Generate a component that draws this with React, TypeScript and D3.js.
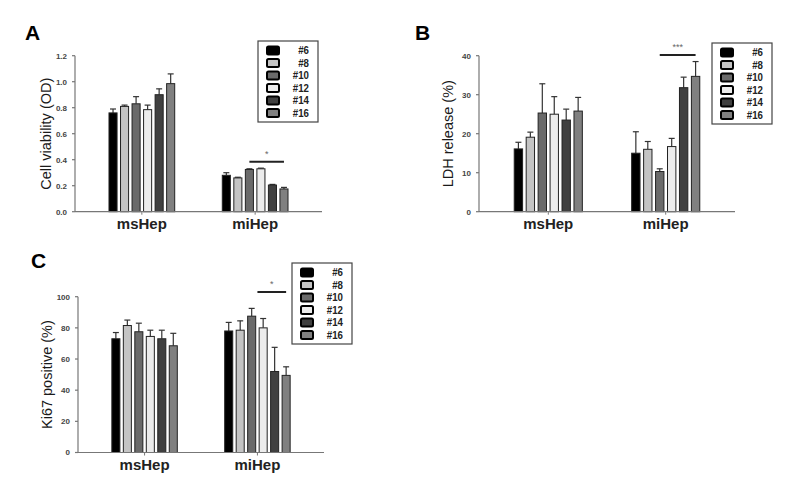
import React, { useEffect } from 'react'
import * as d3 from 'd3'

// groups and lines
const groups = ['msHep', 'miHep']
const series = ['#6', '#8', '#10', '#12', '#14', '#16']
const fills = ['#000000', '#c4c4c4', '#6a6a6a', '#ececec', '#404040', '#808080']

// A: cell viability (OD)
const viabilityMs = [0.76, 0.81, 0.83, 0.785, 0.90, 0.985]
const viabilityMsErr = [0.03, 0.01, 0.055, 0.035, 0.045, 0.075]
const viabilityMi = [0.28, 0.26, 0.325, 0.33, 0.205, 0.175]
const viabilityMiErr = [0.02, 0.005, 0.005, 0.005, 0.005, 0.012]
const viabilityTicks = [0, 0.2, 0.4, 0.6, 0.8, 1.0, 1.2]

// B: LDH release (%)
const ldhMs = [16.1, 19.1, 25.3, 25.0, 23.5, 25.8]
const ldhMsErr = [1.7, 1.3, 7.5, 4.5, 2.8, 3.5]
const ldhMi = [15.0, 16.0, 10.3, 16.7, 31.8, 34.7]
const ldhMiErr = [5.5, 2.0, 0.7, 2.1, 2.7, 3.8]
const ldhTicks = [0, 10, 20, 30, 40]

// C: Ki67 positive (%)
const ki67Ms = [73, 81.5, 77.5, 74.5, 73, 68.5]
const ki67MsErr = [4, 3.5, 5.5, 4, 5.5, 8]
const ki67Mi = [78, 78.5, 87.5, 80, 52, 49.5]
const ki67MiErr = [5.5, 6, 5, 6, 15.5, 5.5]
const ki67Ticks = [0, 20, 40, 60, 80, 100]

const fontMain = 'Liberation Sans, Arial, sans-serif'

type PanelProps = {
  letter: string
  letterX: number
  letterY: number
  yLabel: string
  yLabelX: number
  ticks: number[]
  fmt: (v: number) => string
  ms: number[]
  msErr: number[]
  mi: number[]
  miErr: number[]
  x0: number
  x1: number
  yTop: number
  yBottom: number
  sig: string
  sigFrom: number
  sigTo: number
  sigValue: number
  legendX: number
  legendY: number
}

const Panel = (p: PanelProps) => {
  const yMax = p.ticks[p.ticks.length - 1]
  const y = d3.scaleLinear().domain([0, yMax]).range([p.yBottom, p.yTop])
  const xg = d3.scaleBand().domain(groups).range([p.x0, p.x1]).paddingInner(0.42).paddingOuter(0.3)
  const xs = d3.scaleBand().domain(series).range([0, xg.bandwidth()]).paddingInner(0.3)
  const vals = [p.ms, p.mi]
  const errs = [p.msErr, p.miErr]
  const bw = xs.bandwidth()

  // significance bar over miHep series (fractional bar index allowed)
  const gx = xg('miHep') as number
  const barCenter = (i: number) => gx + (xs(series[0]) as number) + bw / 2 + i * xs.step()
  const sx1 = barCenter(p.sigFrom)
  const sx2 = barCenter(p.sigTo)
  const sy = y(p.sigValue)

  const legW = 60
  const rowH = 12.5
  const legH = 81

  return (
    <g>
      <text x={p.letterX} y={p.letterY} fontFamily={fontMain} fontWeight="bold" fontSize={21} fill="#000">{p.letter}</text>
      <text transform={`translate(${p.yLabelX},${(p.yTop + p.yBottom) / 2}) rotate(-90)`} textAnchor="middle"
        fontFamily={fontMain} fontSize={14.5} fill="#1a1a1a">{p.yLabel}</text>

      {/* y axis */}
      <line x1={p.x0} x2={p.x0} y1={p.yTop} y2={p.yBottom} stroke="#777" strokeWidth={1.2} />
      {p.ticks.map(t => (
        <g key={t}>
          <line x1={p.x0 - 3} x2={p.x0} y1={y(t)} y2={y(t)} stroke="#777" strokeWidth={1.2} />
          <text x={p.x0 - 8} y={y(t)} dy="0.35em" textAnchor="end" fontFamily={fontMain} fontWeight="bold"
            fontSize={8} fill="#444">{p.fmt(t)}</text>
        </g>
      ))}

      {/* bars */}
      {groups.map((g, gi) => (
        <g key={g} transform={`translate(${xg(g)},0)`}>
          {series.map((s, si) => {
            const v = vals[gi][si]
            const e = errs[gi][si]
            const cx = (xs(s) as number) + bw / 2
            return (
              <g key={s}>
                <line x1={cx} x2={cx} y1={y(v)} y2={y(v + e)} stroke="#333" strokeWidth={1.2} />
                <line x1={cx - 3} x2={cx + 3} y1={y(v + e)} y2={y(v + e)} stroke="#333" strokeWidth={1.2} />
                <rect x={xs(s)} y={y(v)} width={bw} height={y(0) - y(v)} fill={fills[si]} stroke="#222" strokeWidth={1} />
              </g>
            )
          })}
        </g>
      ))}

      {/* x axis */}
      <line x1={p.x0} x2={p.x1} y1={p.yBottom} y2={p.yBottom} stroke="#777" strokeWidth={1.2} />
      {groups.map(g => {
        const cx = (xg(g) as number) + xg.bandwidth() / 2
        return (
          <g key={g}>
            <line x1={cx} x2={cx} y1={p.yBottom} y2={p.yBottom + 3} stroke="#777" strokeWidth={1} />
            <text x={cx} y={p.yBottom + 17} textAnchor="middle" fontFamily={fontMain} fontSize={15}
              fontWeight="bold" fill="#222">{g}</text>
          </g>
        )
      })}

      {/* significance */}
      <line x1={sx1} x2={sx2} y1={sy} y2={sy} stroke="#222" strokeWidth={2} />
      <text x={(sx1 + sx2) / 2} y={sy - 5} textAnchor="middle" fontFamily={fontMain} fontSize={9} fill="#666">{p.sig}</text>

      {/* legend */}
      <g transform={`translate(${p.legendX},${p.legendY})`}>
        <rect x={0} y={0} width={legW} height={legH} fill="#fff" stroke="#444" strokeWidth={1.2} />
        {series.map((s, i) => (
          <g key={s} transform={`translate(0,${9.5 + i * rowH})`}>
            <rect x={9} y={-4} width={12} height={8} rx={1.5} fill={fills[i]} stroke="#000" strokeWidth={2} />
            <text transform={`translate(${legW - 9},0) scale(0.88,1)`} dy="0.36em" textAnchor="end"
              fontFamily={fontMain} fontWeight="bold" fontSize={11} fill="#222">{s}</text>
          </g>
        ))}
      </g>
    </g>
  )
}

const App = () => {
  useEffect(() => {
    document.body.style.margin = '0'
  }, [])
  return (
    <svg width={800} height={479} style={{ display: 'block', background: '#fff' }}>
      <Panel letter="A" letterX={25} letterY={40} yLabel="Cell viability (OD)" yLabelX={51}
        ticks={viabilityTicks} fmt={d3.format('.1f')}
        ms={viabilityMs} msErr={viabilityMsErr} mi={viabilityMi} miErr={viabilityMiErr}
        x0={75} x1={322} yTop={55.7} yBottom={211.7}
        sig="*" sigFrom={2} sigTo={5} sigValue={0.385} legendX={258} legendY={41} />
      <Panel letter="B" letterX={415} letterY={40} yLabel="LDH release (%)" yLabelX={453}
        ticks={ldhTicks} fmt={d3.format('d')}
        ms={ldhMs} msErr={ldhMsErr} mi={ldhMi} miErr={ldhMiErr}
        x0={479} x1={735} yTop={55.7} yBottom={211.7}
        sig="***" sigFrom={2} sigTo={5} sigValue={40.2} legendX={712} legendY={43} />
      <Panel letter="C" letterX={31} letterY={268} yLabel="Ki67 positive (%)" yLabelX={52}
        ticks={ki67Ticks} fmt={d3.format('d')}
        ms={ki67Ms} msErr={ki67MsErr} mi={ki67Mi} miErr={ki67MiErr}
        x0={78} x1={324} yTop={296.7} yBottom={452.5}
        sig="*" sigFrom={2.5} sigTo={5} sigValue={103} legendX={292} legendY={263} />
    </svg>
  )
}

export default App
